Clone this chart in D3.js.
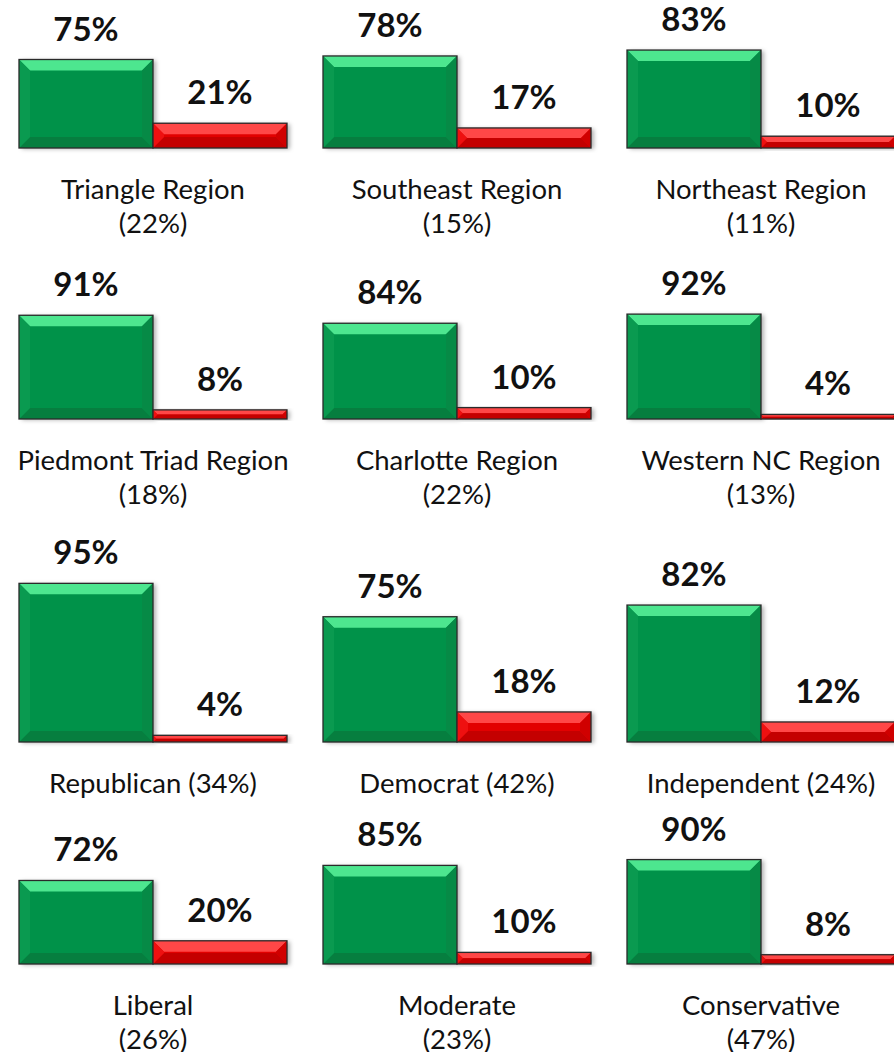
<!DOCTYPE html>
<html>
<head>
<meta charset="utf-8">
<script src="https://cdn.jsdelivr.net/npm/d3@7"></script>
<style>
body { margin: 0; background: #fff; }
</style>
</head>
<body>
<script>
// data
var labels = [
  ["Triangle Region", "(22%)"], ["Southeast Region", "(15%)"], ["Northeast Region", "(11%)"],
  ["Piedmont Triad Region", "(18%)"], ["Charlotte Region", "(22%)"], ["Western NC Region", "(13%)"],
  ["Republican (34%)"], ["Democrat (42%)"], ["Independent (24%)"],
  ["Liberal", "(26%)"], ["Moderate", "(23%)"], ["Conservative", "(47%)"]
];
var yes = [75, 78, 83, 91, 84, 92, 95, 75, 82, 72, 85, 90];
var no  = [21, 17, 10, 8, 10, 4, 4, 18, 12, 20, 10, 8];
var series = ["yes", "no"];

// layout
var width = 894, height = 1052;
var colX = [19, 323, 627];
var rowBase = [148, 419, 742, 964];
var rowPx = [118, 114, 167, 116];   // height of 100% in each row
var barW = 134;

var svg = d3.select("body").append("svg")
  .attr("width", width)
  .attr("height", height);

var defs = svg.append("defs");
var f = defs.append("filter").attr("id", "shadow")
  .attr("x", "-10%").attr("y", "-10%").attr("width", "130%").attr("height", "130%");
f.append("feDropShadow").attr("dx", 3).attr("dy", 1)
  .attr("stdDeviation", 2).attr("flood-color", "#000").attr("flood-opacity", 0.3);

var pal = {
  yes: {main: "#06924a", top: "#4de68f", left: "#0a9a50", right: "#068a46", bottom: "#067e3f"},
  no:  {main: "#e20000", top: "#ff4747", left: "#ee1010", right: "#d00000", bottom: "#c40000"}
};

var x = d3.scaleBand().domain(series).range([0, barW * 2]).padding(0);

function poly(pts) { return "M" + pts.map(function(p) { return p.join(","); }).join("L") + "Z"; }

labels.forEach(function(lab, i) {
  var r = Math.floor(i / 3), c = i % 3;
  var y = d3.scaleLinear().domain([0, 100]).range([0, -rowPx[r]]);
  var g = svg.append("g").attr("transform", "translate(" + colX[c] + "," + rowBase[r] + ")");
  var vals = [{k: "yes", v: yes[i]}, {k: "no", v: no[i]}];

  vals.forEach(function(d) {
    var x0 = x(d.k), x1 = x0 + x.bandwidth(), y0 = y(d.v), y1 = 0;
    var b = Math.min(11, (y1 - y0) / 2);
    var p = pal[d.k];
    var bar = g.append("g");
    bar.append("rect").attr("x", x0).attr("y", y0).attr("width", x1 - x0).attr("height", y1 - y0)
      .attr("fill", p.main).attr("filter", "url(#shadow)");
    bar.append("path").attr("d", poly([[x0, y0], [x1, y0], [x1 - b, y0 + b], [x0 + b, y0 + b]])).attr("fill", p.top);
    bar.append("path").attr("d", poly([[x0, y1], [x1, y1], [x1 - b, y1 - b], [x0 + b, y1 - b]])).attr("fill", p.bottom);
    bar.append("path").attr("d", poly([[x0, y0], [x0 + b, y0 + b], [x0 + b, y1 - b], [x0, y1]])).attr("fill", p.left);
    bar.append("path").attr("d", poly([[x1, y0], [x1 - b, y0 + b], [x1 - b, y1 - b], [x1, y1]])).attr("fill", p.right);
    bar.append("rect").attr("x", x0).attr("y", y0).attr("width", x1 - x0).attr("height", y1 - y0)
      .attr("fill", "none").attr("stroke", "#2a2a2a").attr("stroke-width", 1.3);

    g.append("text")
      .attr("x", x0 + x.bandwidth() / 2)
      .attr("y", y0 - 19)
      .attr("text-anchor", "middle")
      .attr("font-family", "Lato, 'Open Sans', sans-serif")
      .attr("font-weight", "bold")
      .attr("font-size", 33)
      .attr("fill", "#111")
      .text(d.v + "%");
  });

  var t = g.append("text")
    .attr("text-anchor", "middle")
    .attr("font-family", "Lato, 'Open Sans', sans-serif")
    .attr("font-size", 27.5)
    .attr("fill", "#111");
  lab.forEach(function(line, j) {
    t.append("tspan").attr("x", barW).attr("y", 51 + j * 34).text(line);
  });
});
</script>
</body>
</html>
